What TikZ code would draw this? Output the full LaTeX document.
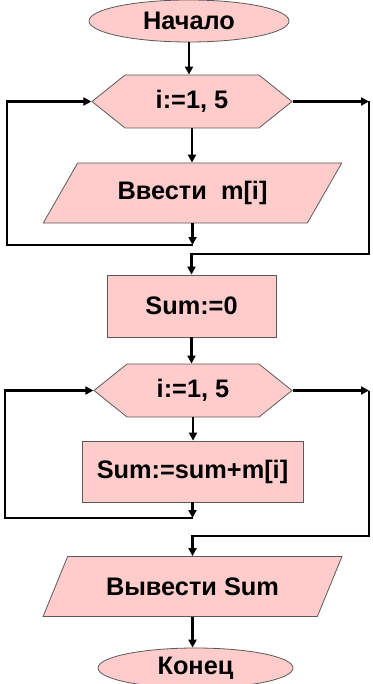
\documentclass[tikz,border=0pt]{standalone}
\usepackage{fontspec}
\setmainfont{Liberation Sans}
\usetikzlibrary{shapes.geometric,shapes.symbols,arrows.meta}

\tikzset{every picture/.style={line width=0.75pt}}
\tikzset{
  blk/.style={draw={rgb, 255:red, 90; green, 90; blue, 90 }, line width=0.6pt, fill={rgb, 255:red, 255; green, 204; blue, 204 }, inner sep=0pt, font=\fontsize{19}{22}\selectfont\bfseries},
  term/.style={blk, ellipse},
  cyc/.style={blk, signal, signal to=west and east, signal pointer angle=77.5, minimum width=150pt, minimum height=39.75pt},
  io/.style={blk, trapezium, trapezium left angle=46.5, trapezium right angle=133.5, trapezium stretches=true, minimum width=224.25pt, minimum height=45pt},
  act/.style={blk, rectangle},
  flow/.style={line width=1.7pt, -{Triangle[length=6pt,width=6pt]}},
}

\begin{document}
\begin{tikzpicture}[x=0.75pt,y=0.75pt,yscale=-1,xscale=1]
\useasboundingbox (0,0) rectangle (372,684);

%Shape: Ellipse [id:start] 
\node[term, minimum width=150pt, minimum height=31.5pt] (start) at (189,21) {Начало};
%Shape: Hexagon [id:cyc1] 
\node[cyc] (cyc1) at (192,101.5) {i:=1, 5};
%Shape: Parallelogram [id:in1] 
\node[io] (in1) at (192.5,193) {Ввести\ \ m[i]};
%Shape: Rectangle [id:sum0] 
\node[act, minimum width=126.75pt, minimum height=46.5pt] (sum0) at (191.5,306) {Sum:=0};
%Shape: Hexagon [id:cyc2] 
\node[cyc, minimum width=148.5pt] (cyc2) at (193,390.5) {i:=1, 5};
%Shape: Rectangle [id:add] 
\node[act, minimum width=165.75pt, minimum height=45.75pt] (add) at (192.5,471.5) {Sum:=sum+m[i]};
%Shape: Parallelogram [id:out] 
\node[io] (out) at (192.5,586.5) {Вывести Sum};
%Shape: Ellipse [id:stop] 
\node[term, minimum width=146.25pt, minimum height=30pt] (stop) at (195.5,668) {Конец};

%loop corners
\coordinate (lp1) at (7,245);
\coordinate (rp1) at (369,254);
\coordinate (lp2) at (5,518);
\coordinate (rp2) at (369,536);

%Straight Lines [id:first loop] 
\draw[flow] (start) -- (start |- cyc1.north);
\draw[flow] (cyc1.south) -- (cyc1.south |- in1.north);
\draw[flow] (in1.south) -- (in1.south |- lp1);
\draw[flow] (in1.south |- lp1) -- (lp1) |- (cyc1.west);
\draw[flow] (cyc1.east) -- (cyc1.east -| rp1);
\draw[flow] (cyc1.east -| rp1) -- (rp1) -| (sum0.north);
%Straight Lines [id:second loop] 
\draw[flow] (sum0.south) -- (sum0.south |- cyc2.north);
\draw[flow] (cyc2.south) -- (cyc2.south |- add.north);
\draw[flow] (add.south) -- (add.south |- lp2);
\draw[flow] (add.south |- lp2) -- (lp2) |- (cyc2.west);
\draw[flow] (cyc2.east) -- (cyc2.east -| rp2);
\draw[flow] (cyc2.east -| rp2) -- (rp2) -| (out.north);
\draw[flow] (out.south) -- (out.south |- stop.north);

\end{tikzpicture}
\end{document}
